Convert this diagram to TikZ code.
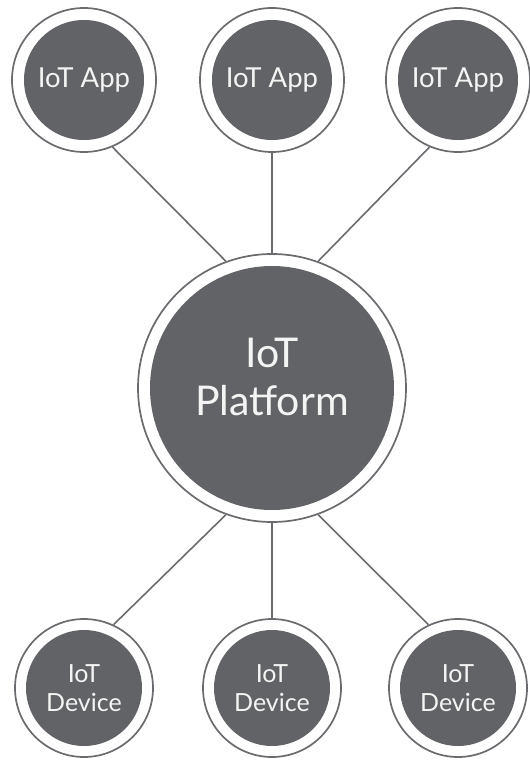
\documentclass[tikz,border=0pt]{standalone}
\usepackage{fontspec}
\setmainfont{Lato}
\definecolor{disc}{HTML}{626366}
\definecolor{ring}{HTML}{6A6B6E}
\definecolor{wire}{HTML}{6A6B6E}
\definecolor{txt}{HTML}{F4F4F4}
\tikzset{
  ringnode/.style n args={2}{circle, draw=ring, line width=1.7pt, fill=white,
    minimum size=#1, inner sep=0pt, text=txt, align=center,
    path picture={\fill[disc] (path picture bounding box.center) circle (#2);}},
  appnode/.style={ringnode={144pt}{60pt}, font=\fontsize{27.5}{32}\selectfont},
  devnode/.style={ringnode={138pt}{58pt}, font=\fontsize{25}{29}\selectfont},
  platnode/.style={ringnode={268pt}{122pt}},
  wireline/.style={draw=wire, line width=1.6pt},
}
\begin{document}
\begin{tikzpicture}[x=1pt,y=-1pt]
\useasboundingbox (0,0) rectangle (530,763);
\node[appnode] (app1) at (84,80) {IoT App};
\node[appnode] (app2) at (272,80) {IoT App};
\node[appnode] (app3) at (458,80) {IoT App};
\node[platnode, label={[text=txt, align=center, yshift=11pt, font=\fontsize{41}{48}\selectfont]center:{IoT\\Platform}}] (plat) at (272,388) {};
\node[devnode] (dev1) at (84,688) {IoT\\Device};
\node[devnode] (dev2) at (272,688) {IoT\\Device};
\node[devnode] (dev3) at (458,688) {IoT\\Device};
\draw[wireline] (app1.-67) -- (plat.110);
\draw[wireline] (app2.south) -- (plat.north);
\draw[wireline] (app3.-113) -- (plat.70);
\draw[wireline] (plat.-110) -- (dev1.65);
\draw[wireline] (plat.south) -- (dev2.north);
\draw[wireline] (plat.-70) -- (dev3.115);
\end{tikzpicture}
\end{document}
